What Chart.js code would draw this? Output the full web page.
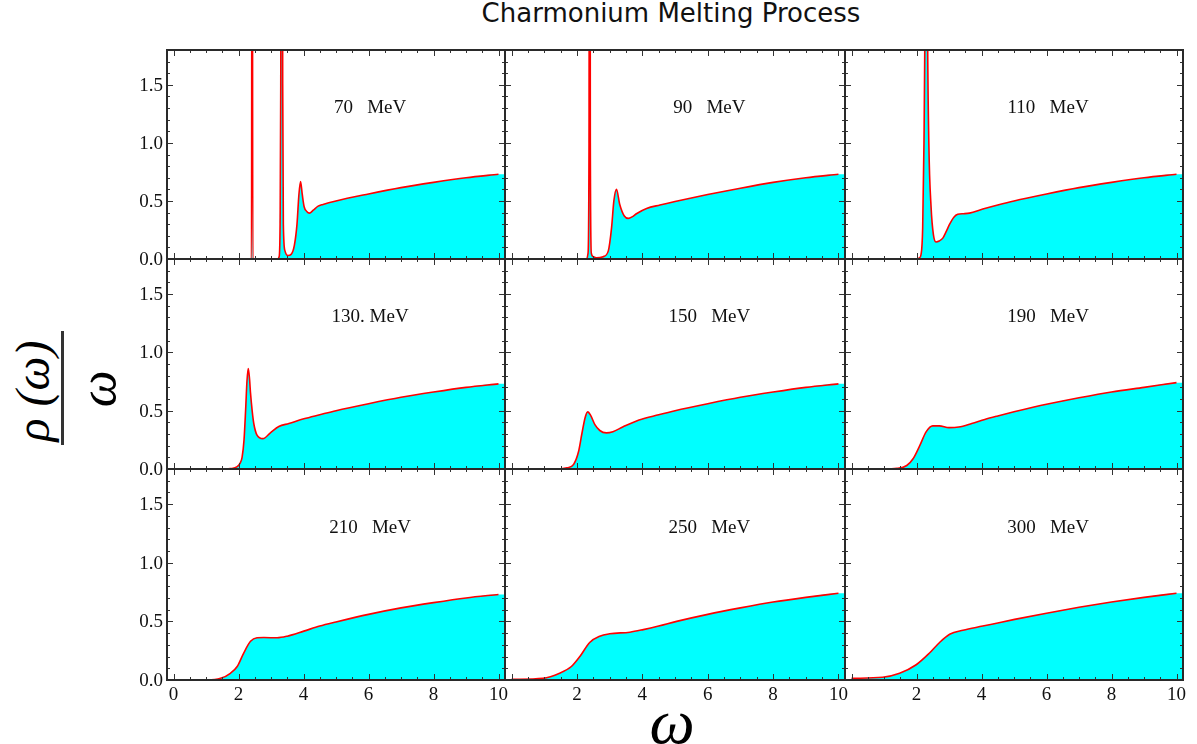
<!DOCTYPE html>
<html>
<head>
<meta charset="utf-8">
<script src="https://cdn.jsdelivr.net/npm/chart.js@4.4.0/dist/chart.umd.min.js"></script>
<style>
  html, body { margin: 0; padding: 0; background: #fff; }
  #wrap { position: relative; width: 1197px; height: 744px; overflow: hidden; background: #fff; }
  #wrap canvas { position: absolute; }
  .lbl { position: absolute; white-space: nowrap; color: #000; }
  #title { left: 671px; top: -2px; transform: translateX(-50%); font: 26px 'DejaVu Sans', sans-serif; color: #111; }
  #ynum { left: 32px; top: 391px; transform: translate(-50%, -50%) rotate(-90deg); font: italic 48px 'Liberation Serif', serif; }
  #ybar { left: 61px; top: 331px; width: 3px; height: 114px; background: #333; }
  #yden { left: 97px; top: 389px; transform: translate(-50%, -50%) rotate(-90deg); font: italic 52px 'Liberation Serif', serif; }
  #xlab { left: 672px; top: 722px; transform: translate(-50%, -50%); font: italic 64px 'Liberation Serif', serif; }
</style>
</head>
<body>
<div id="wrap">
  <div class="lbl" id="title">Charmonium Melting Process</div>
  <div class="lbl" id="ynum">ρ (ω)</div>
  <div class="lbl" id="ybar"></div>
  <div class="lbl" id="yden">ω</div>
  <div class="lbl" id="xlab">ω</div>
</div>
<script>
// Temperatures (panel labels)
const temperatures = ['70   MeV', '90   MeV', '110   MeV', '130. MeV', '150   MeV', '190   MeV', '210   MeV', '250   MeV', '300   MeV'];

// Axis ticks
const xTickValues = [0, 2, 4, 6, 8, 10];
const yTickValues = [0, 0.5, 1.0, 1.5];

// rho(omega)/omega
const omega70 = [0, 2.40, 2.42, 2.44, 3.20, 3.25, 3.28, 3.30, 3.33, 3.36, 3.38, 3.43, 3.52, 3.62, 3.72, 3.80, 3.86, 3.91, 3.96, 4.02, 4.10, 4.18, 4.30, 4.45, 4.60, 5.0, 6.0, 7.0, 8.0, 9.0, 10.0];
const rho70   = [0, 0, 6, 0, 0, 0.02, 0.3, 1.5, 8, 1.5, 0.3, 0.07, 0.03, 0.04, 0.12, 0.30, 0.56, 0.667, 0.56, 0.45, 0.41, 0.395, 0.42, 0.455, 0.47, 0.50, 0.56, 0.615, 0.66, 0.70, 0.73];

const omega90 = [0, 2.30, 2.34, 2.37, 2.39, 2.41, 2.44, 2.50, 2.60, 2.80, 2.96, 3.06, 3.13, 3.21, 3.31, 3.45, 3.57, 3.70, 3.82, 4.13, 4.54, 5.0, 6.0, 7.0, 8.0, 9.0, 10.0];
const rho90   = [0, 0, 0.05, 1.0, 8, 1.0, 0.05, 0.02, 0.01, 0.02, 0.07, 0.27, 0.50, 0.60, 0.47, 0.37, 0.35, 0.365, 0.39, 0.435, 0.465, 0.495, 0.555, 0.61, 0.66, 0.70, 0.73];

const omega110 = [0, 2.00, 2.09, 2.14, 2.19, 2.23, 2.26, 2.30, 2.34, 2.38, 2.45, 2.52, 2.60, 2.70, 2.81, 2.92, 3.02, 3.15, 3.27, 3.45, 3.63, 4.04, 4.5, 5.0, 6.0, 7.0, 8.0, 9.0, 10.0];
const rho110   = [0, 0, 0.01, 0.04, 0.27, 1.0, 2.0, 5, 2.0, 1.0, 0.44, 0.21, 0.147, 0.155, 0.18, 0.24, 0.30, 0.36, 0.385, 0.39, 0.395, 0.43, 0.465, 0.50, 0.56, 0.615, 0.66, 0.70, 0.73];

const omega130 = [0, 1.60, 1.75, 1.96, 2.05, 2.11, 2.17, 2.22, 2.26, 2.30, 2.34, 2.37, 2.42, 2.47, 2.57, 2.75, 2.98, 3.24, 3.55, 4.01, 4.5, 5.0, 6.0, 7.0, 8.0, 9.0, 10.0];
const rho130   = [0, 0, 0.003, 0.02, 0.05, 0.10, 0.25, 0.51, 0.75, 0.86, 0.77, 0.65, 0.50, 0.39, 0.29, 0.26, 0.31, 0.365, 0.39, 0.43, 0.465, 0.50, 0.56, 0.615, 0.66, 0.70, 0.73];

const omega150 = [0, 1.40, 1.70, 1.90, 2.05, 2.15, 2.25, 2.33, 2.42, 2.55, 2.70, 2.90, 3.10, 3.40, 3.90, 4.5, 5.0, 6.0, 7.0, 8.0, 9.0, 10.0];
const rho150   = [0, 0, 0.01, 0.04, 0.15, 0.30, 0.44, 0.49, 0.46, 0.38, 0.33, 0.31, 0.32, 0.36, 0.42, 0.465, 0.50, 0.56, 0.615, 0.66, 0.70, 0.73];

const omega190 = [0, 1.0, 1.4, 1.7, 1.9, 2.1, 2.3, 2.5, 2.7, 3.0, 3.3, 3.7, 4.1, 4.5, 5.0, 6.0, 7.0, 8.0, 9.0, 10.0];
const rho190   = [0, 0, 0.005, 0.03, 0.09, 0.20, 0.32, 0.37, 0.37, 0.355, 0.36, 0.39, 0.425, 0.455, 0.49, 0.555, 0.61, 0.66, 0.70, 0.74];

const omega210 = [0, 1.04, 1.45, 1.75, 1.96, 2.16, 2.37, 2.57, 2.78, 3.19, 3.50, 4.01, 4.50, 5.0, 6.0, 7.0, 8.0, 9.0, 10.0];
const rho210   = [0, 0, 0.014, 0.057, 0.115, 0.23, 0.33, 0.36, 0.362, 0.36, 0.374, 0.417, 0.46, 0.495, 0.56, 0.615, 0.66, 0.70, 0.73];

const omega250 = [0, 0.96, 1.47, 1.83, 2.09, 2.39, 2.70, 3.00, 3.62, 4.03, 4.50, 5.05, 6.0, 7.0, 8.0, 9.0, 10.0];
const rho250   = [0.005, 0.014, 0.057, 0.115, 0.20, 0.32, 0.374, 0.394, 0.408, 0.43, 0.46, 0.50, 0.56, 0.615, 0.665, 0.705, 0.74];

const omega300 = [0, 0.96, 1.48, 1.99, 2.40, 2.71, 3.02, 3.43, 4.04, 4.50, 5.02, 6.0, 7.0, 8.0, 9.0, 10.0];
const rho300   = [0.014, 0.023, 0.057, 0.13, 0.23, 0.32, 0.39, 0.425, 0.46, 0.487, 0.517, 0.57, 0.62, 0.665, 0.705, 0.74];

const panelOmega = [omega70, omega90, omega110, omega130, omega150, omega190, omega210, omega250, omega300];
const panelRho   = [rho70, rho90, rho110, rho130, rho150, rho190, rho210, rho250, rho300];

// Layout of the 3x3 grid (pixel frames)
const colEdges = [167, 505, 845, 1183];
const rowEdges = [50, 259, 469, 680];
const pad = { left: 52, right: 6, top: 4, bottom: 36 };

// Frame, inward ticks, tick labels and temperature label
const framePlugin = {
  id: 'framePlugin',
  afterDatasetsDraw(chart, args, opts) {
    const ctx = chart.ctx;
    const area = chart.chartArea;
    const xs = chart.scales.x;
    const ys = chart.scales.y;
    ctx.save();
    ctx.strokeStyle = '#333';
    ctx.lineWidth = 1;
    ctx.beginPath();
    // x ticks on bottom and top
    for (let v = 0; v <= 10.001; v += 0.5) {
      const px = Math.round(xs.getPixelForValue(v)) + 0.5;
      const len = Math.abs(v - Math.round(v / 2) * 2) < 1e-6 ? 6 : 3;
      ctx.moveTo(px, area.bottom); ctx.lineTo(px, area.bottom - len);
      ctx.moveTo(px, area.top); ctx.lineTo(px, area.top + len);
    }
    // y ticks on left and right
    for (let i = 0; i <= 18; i++) {
      const v = i / 10;
      const py = Math.round(ys.getPixelForValue(v)) + 0.5;
      const len = i % 5 === 0 ? 6 : 3;
      ctx.moveTo(area.left, py); ctx.lineTo(area.left + len, py);
      ctx.moveTo(area.right, py); ctx.lineTo(area.right - len, py);
    }
    ctx.stroke();
    // frame
    ctx.lineWidth = 2;
    ctx.strokeStyle = '#2a2a2a';
    ctx.strokeRect(area.left, area.top, area.right - area.left, area.bottom - area.top);

    ctx.fillStyle = '#111';
    ctx.font = "19px 'Liberation Serif', serif";
    if (opts.showY) {
      ctx.textAlign = 'right';
      ctx.textBaseline = 'middle';
      yTickValues.forEach(v => {
        ctx.fillText(v.toFixed(1), area.left - 4, ys.getPixelForValue(v) + 1);
      });
    }
    if (opts.showX) {
      ctx.textAlign = 'center';
      ctx.textBaseline = 'top';
      xTickValues.forEach(v => {
        if (v === 0 && !opts.showY) return;
        ctx.fillText(String(v), xs.getPixelForValue(v), area.bottom + 6);
      });
    }
    // temperature label
    ctx.font = "19px 'Liberation Serif', serif";
    ctx.textAlign = 'center';
    ctx.textBaseline = 'middle';
    ctx.fillText(opts.label, xs.getPixelForValue(6.05), ys.getPixelForValue(1.3));
    ctx.restore();
  }
};

const wrap = document.getElementById('wrap');

panelOmega.forEach((omega, k) => {
  const row = Math.floor(k / 3);
  const col = k % 3;
  const w = colEdges[col + 1] - colEdges[col];
  const h = rowEdges[row + 1] - rowEdges[row];

  const canvas = document.createElement('canvas');
  canvas.width = w + pad.left + pad.right;
  canvas.height = h + pad.top + pad.bottom;
  canvas.style.left = (colEdges[col] - pad.left) + 'px';
  canvas.style.top = (rowEdges[row] - pad.top) + 'px';
  canvas.style.width = canvas.width + 'px';
  canvas.style.height = canvas.height + 'px';
  wrap.appendChild(canvas);

  const rho = panelRho[k];
  const curve = omega.map((x, i) => ({ x: x, y: rho[i] }));
  // the cyan area runs on to the right frame
  const area = curve.concat([{ x: 10.3, y: rho[rho.length - 1] }]);

  new Chart(canvas.getContext('2d'), {
    type: 'line',
    data: {
      datasets: [
        {
          data: curve,
          borderColor: '#ff0000',
          borderWidth: 1.6,
          pointRadius: 0,
          fill: false,
          cubicInterpolationMode: 'monotone',
          order: 0
        },
        {
          data: area,
          borderColor: 'rgba(0,0,0,0)',
          borderWidth: 0,
          backgroundColor: '#00ffff',
          pointRadius: 0,
          fill: 'origin',
          cubicInterpolationMode: 'monotone',
          order: 1
        }
      ]
    },
    options: {
      responsive: false,
      animation: false,
      devicePixelRatio: 1,
      events: [],
      layout: { padding: pad },
      scales: {
        x: { type: 'linear', min: -0.2, max: 10.2, display: false },
        y: { type: 'linear', min: 0, max: 1.8, display: false }
      },
      plugins: {
        legend: { display: false },
        tooltip: { enabled: false },
        framePlugin: { showY: col === 0, showX: row === 2, label: temperatures[k] }
      }
    },
    plugins: [framePlugin]
  });
});
</script>
</body>
</html>
